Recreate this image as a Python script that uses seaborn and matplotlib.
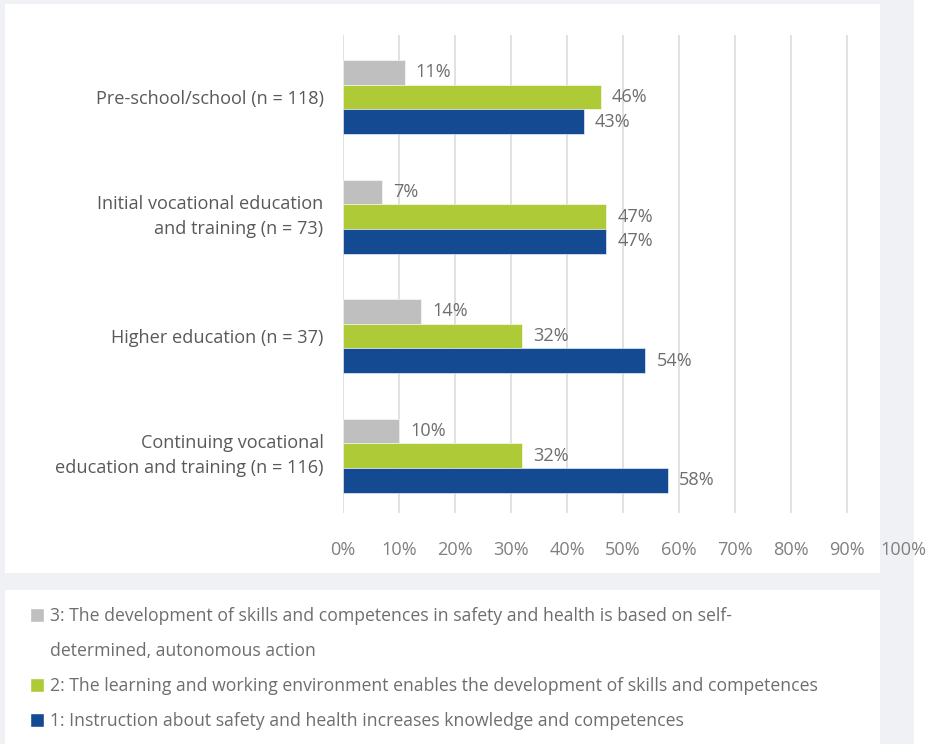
import matplotlib
matplotlib.use("Agg")
import matplotlib.pyplot as plt
from matplotlib.patches import Rectangle, Patch
import pandas as pd
import seaborn as sns

# Survey results by education sector (share of respondents, %)
sectors = [
    "Pre-school/school (n = 118)",
    "Initial vocational education\nand training (n = 73)",
    "Higher education (n = 37)",
    "Continuing vocational\neducation and training (n = 116)",
]
approaches = [
    "3: The development of skills and competences in safety and health is based on self-\ndetermined, autonomous action",
    "2: The learning and working environment enables the development of skills and competences",
    "1: Instruction about safety and health increases knowledge and competences",
]
self_determined = [11, 7, 14, 10]
environment = [46, 47, 32, 32]
instruction = [43, 47, 54, 58]
x_ticks = [0, 10, 20, 30, 40, 50, 60, 70, 80, 90, 100]
x_tick_labels = ["0%", "10%", "20%", "30%", "40%", "50%", "60%", "70%", "80%", "90%", "100%"]

colors = ["#bfbfbf", "#aeca36", "#134a91"]

df = pd.DataFrame({
    "sector": sectors * 3,
    "approach": [approaches[0]] * 4 + [approaches[1]] * 4 + [approaches[2]] * 4,
    "share": self_determined + environment + instruction,
})

sns.set_theme(style="white")
plt.rcParams["font.family"] = ["Open Sans", "DejaVu Sans"]

FS = 13.1
FS_LEG = 12.7
W, H = 934, 744
fig = plt.figure(figsize=(W / 100, H / 100), dpi=100)
fig.patch.set_facecolor("white")

def px_rect(x0, y0, x1, y1, color):
    fig.add_artist(Rectangle((x0 / W, 1 - y1 / H), (x1 - x0) / W, (y1 - y0) / H,
                             transform=fig.transFigure, facecolor=color,
                             edgecolor="none", zorder=-10))

# background panels
px_rect(0, 0, 914, H, "#eff1f4")
px_rect(5, 4, 880, 573, "white")
px_rect(5, 590, 880, H, "white")

ax = fig.add_axes([343 / W, 1 - 513 / H, 560 / W, 478 / H])
ax.set_facecolor("none")

sns.barplot(data=df, y="sector", x="share", hue="approach", hue_order=approaches,
            order=sectors, palette=colors, saturation=1, orient="h", width=0.62,
            ax=ax, edgecolor="white", linewidth=0.4, legend=False, zorder=3)

ax.set_xlim(0, 100)
ax.set_ylim(3.48, -0.52)
ax.set_xticks(x_ticks)
ax.set_xticklabels(x_tick_labels, fontsize=FS, color="#808080")
ax.tick_params(axis="x", length=0, pad=20.5)
ax.tick_params(axis="y", length=0, pad=14, labelsize=FS, labelcolor="#595959")
for lbl in ax.get_yticklabels():
    if "\n" in lbl.get_text():
        lbl.set_linespacing(1.45)
        lbl.set_va("center")
ax.set_xlabel("")
ax.set_ylabel("")
for s in ax.spines.values():
    s.set_visible(False)
ax.grid(axis="x", color="#d9d9d9", linewidth=1.1, zorder=0)
ax.grid(axis="y", visible=False)
ax.xaxis.get_gridlines()[-1].set_visible(False)

for cont in ax.containers:
    ax.bar_label(cont, labels=[f"{v:.0f}%" for v in cont.datavalues],
                 padding=8, fontsize=FS, color="#6d6e71")

# legend below the chart
handles = [Patch(facecolor=colors[0]), Patch(visible=False),
           Patch(facecolor=colors[1]), Patch(facecolor=colors[2])]
first_lines = approaches[0].split("\n")
labels = [first_lines[0], first_lines[1], approaches[1], approaches[2]]
fig.legend(handles, labels, loc="upper left", bbox_to_anchor=(30 / W, 1 - 607 / H),
           frameon=False, fontsize=FS_LEG, labelcolor="#6d6e71", borderpad=0,
           borderaxespad=0, handlelength=0.82, handleheight=0.82,
           handletextpad=0.3, labelspacing=0.97)

fig.savefig("out.png", dpi=100)
